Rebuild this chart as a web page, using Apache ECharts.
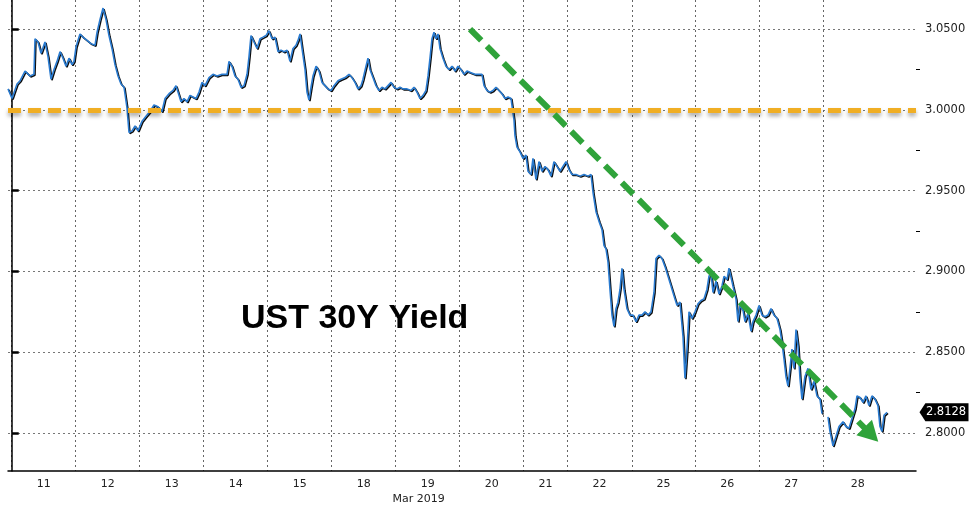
<!DOCTYPE html>
<html><head><meta charset="utf-8">
<script src="https://cdn.jsdelivr.net/npm/echarts@6/dist/echarts.min.js"></script>
<style>html,body{margin:0;padding:0;background:#fff}#c{width:976px;height:509px}</style>
</head><body><div id="c"></div>
<script>
// Trading days (Mar 2019); x unit = one trading session, day 21 is a short session
const dayLabels = ['11','12','13','14','15','18','19','20','21','22','25','26','27','28'];
const monthLabel = 'Mar 2019';
const monthDayIndex = 6;
const dayStarts = [0,1,2,3,4,5,6,7,8,8.68,9.69,10.68,11.68,12.68];
const sessionEnd = 13.76;
const xMin = -0.058, xMax = 14.13;
const yMin = 2.7765, yMax = 3.068;
const yTicks = [2.80,2.85,2.90,2.95,3.00,3.05];
const yMinorTicks = [2.825,2.875,2.925,2.975,3.025];
const refLevel = 3.00;
const trendStart = [7.161, 3.050];
const trendEnd = [13.43, 2.799];
const lastYield = 2.8128;

const times = [
-0.058,0.005,0.083,0.130,0.208,0.286,0.348,0.364,0.411,0.458,0.520,0.567,0.614,0.661,0.708,0.755,0.802,0.848,0.895,0.942,0.973,
1.005,1.067,1.114,1.177,1.239,1.302,1.333,1.380,1.427,1.473,1.520,1.567,1.614,1.661,1.708,1.755,1.802,1.833,1.880,1.927,1.973,
2.036,2.098,2.161,2.223,2.286,2.348,2.395,2.458,2.520,2.567,2.614,2.645,2.692,2.739,2.786,2.833,2.880,2.927,2.973,
3.020,3.083,3.145,3.208,3.286,3.364,3.395,3.442,3.489,3.536,3.583,3.630,3.677,3.708,3.739,3.786,3.833,3.880,3.927,3.973,
4.020,4.067,4.114,4.161,4.208,4.255,4.302,4.348,4.395,4.442,4.473,4.505,4.536,4.583,4.614,4.645,4.677,4.708,4.755,4.802,4.848,4.895,4.942,
4.989,5.036,5.098,5.145,5.208,5.270,5.317,5.364,5.411,5.458,5.489,5.536,5.567,5.598,5.645,5.692,5.739,5.786,5.833,5.880,5.927,5.973,
6.020,6.067,6.114,6.177,6.239,6.286,6.333,6.380,6.427,6.473,6.505,6.536,6.567,6.598,6.630,6.661,6.692,6.739,6.786,6.833,6.880,6.927,6.973,
7.020,7.067,7.114,7.177,7.239,7.302,7.348,7.380,7.427,7.473,7.520,7.567,7.614,7.661,7.708,7.755,7.802,7.833,7.848,7.864,7.895,7.942,7.989,
8.036,8.067,8.114,8.145,8.192,8.239,8.286,8.333,8.380,8.427,8.473,8.520,8.567,8.614,8.661,
8.708,8.755,8.817,8.880,8.942,9.005,9.052,9.083,9.130,9.177,9.223,9.255,9.286,9.317,9.348,9.380,9.411,9.442,9.473,9.505,9.536,9.567,9.614,9.661,
9.708,9.755,9.802,9.848,9.895,9.942,9.989,10.036,10.067,10.114,10.161,10.208,10.255,10.302,10.348,10.395,10.442,10.489,10.520,10.552,10.583,10.630,
10.677,10.723,10.770,10.817,10.864,10.895,10.927,10.958,11.005,11.052,11.098,11.130,11.177,11.208,11.239,11.270,11.317,11.348,11.380,11.427,11.458,11.505,11.552,11.583,11.630,
11.677,11.723,11.770,11.817,11.864,11.911,11.958,12.005,12.036,12.067,12.098,12.130,12.161,12.192,12.223,12.255,12.286,12.317,12.348,12.395,12.442,12.489,12.536,12.583,12.630,12.661,
12.700,
12.755,12.786,12.833,12.880,12.927,12.989,13.036,13.083,13.130,13.177,13.208,13.255,13.302,13.348,13.395,13.442,13.489,13.536,13.567,13.598,13.630,13.677
];
const yields = [
3.013,3.007,3.016,3.018,3.024,3.021,3.022,3.044,3.042,3.035,3.042,3.033,3.019,3.025,3.030,3.036,3.032,3.027,3.032,3.028,3.030,
3.039,3.047,3.045,3.043,3.041,3.040,3.048,3.056,3.063,3.056,3.046,3.038,3.028,3.021,3.016,3.014,3.001,2.986,2.987,2.990,2.987,
2.993,2.996,2.999,3.003,3.002,2.999,3.007,3.010,3.012,3.015,3.009,3.005,3.007,3.005,3.009,3.008,3.007,3.011,3.017,
3.015,3.020,3.022,3.021,3.022,3.022,3.030,3.027,3.021,3.019,3.014,3.015,3.022,3.033,3.046,3.042,3.038,3.044,3.045,3.046,
3.049,3.044,3.045,3.036,3.037,3.036,3.037,3.030,3.038,3.040,3.043,3.047,3.038,3.025,3.011,3.006,3.014,3.021,3.027,3.024,3.017,3.015,3.013,
3.012,3.015,3.018,3.019,3.020,3.022,3.020,3.017,3.013,3.015,3.019,3.027,3.032,3.025,3.020,3.015,3.012,3.014,3.013,3.015,3.017,3.014,
3.013,3.014,3.013,3.013,3.012,3.014,3.011,3.007,3.009,3.012,3.021,3.032,3.044,3.048,3.044,3.047,3.038,3.032,3.027,3.025,3.027,3.024,3.027,
3.025,3.022,3.024,3.023,3.022,3.022,3.022,3.015,3.012,3.011,3.012,3.014,3.012,3.010,3.007,3.008,3.007,3.006,2.994,2.984,2.977,2.974,2.970,
2.972,2.962,2.960,2.970,2.957,2.968,2.962,2.965,2.963,2.959,2.968,2.965,2.962,2.965,2.968,
2.963,2.960,2.960,2.959,2.960,2.959,2.960,2.949,2.937,2.931,2.926,2.916,2.914,2.906,2.889,2.873,2.866,2.877,2.881,2.889,2.902,2.889,2.877,2.873,
2.873,2.869,2.873,2.873,2.875,2.873,2.875,2.887,2.908,2.910,2.908,2.903,2.897,2.891,2.885,2.879,2.881,2.860,2.834,2.852,2.875,2.871,
2.875,2.880,2.882,2.883,2.889,2.897,2.899,2.887,2.894,2.886,2.891,2.897,2.895,2.902,2.903,2.891,2.883,2.869,2.879,2.876,2.869,2.874,2.863,2.869,2.873,
2.879,2.873,2.872,2.873,2.877,2.873,2.871,2.864,2.856,2.846,2.835,2.829,2.840,2.852,2.840,2.864,2.854,2.834,2.821,2.835,2.840,2.827,2.832,2.823,2.821,2.812,
null,
2.810,2.801,2.792,2.798,2.804,2.807,2.804,2.803,2.809,2.815,2.823,2.822,2.819,2.823,2.817,2.823,2.821,2.817,2.804,2.801,2.811,2.8128
];

const seriesData = times.map((t, i) => [t, yields[i] === null ? '-' : yields[i]]);
const dayMids = dayStarts.map((s, i) => (s + (i + 1 < dayStarts.length ? dayStarts[i + 1] : sessionEnd)) / 2);

function dayLabelFor(v) {
  let best = 0, bd = Infinity;
  dayMids.forEach((m, i) => { const d = Math.abs(m - v); if (d < bd) { bd = d; best = i; } });
  if (best === monthDayIndex) return dayLabels[best] + '\n{m|' + monthLabel + '}';
  return dayLabels[best];
}

const font = 'DejaVu Sans';
const gridLeft = 8, gridRight = 60, chartWidth = 976;
const chart = echarts.init(document.getElementById('c'));
chart.setOption({
  animation: false,
  backgroundColor: '#ffffff',
  title: {
    text: 'UST 30Y Yield', left: 236, top: 297,
    textStyle: { fontFamily: 'Liberation Sans', fontWeight: 'bold', fontSize: 34, color: '#000' }
  },
  grid: { left: gridLeft, right: gridRight, top: 0, bottom: 38, containLabel: false },
  xAxis: {
    type: 'value', min: xMin, max: xMax,
    axisLine: { show: true, lineStyle: { color: '#000', width: 1.5 } },
    axisTick: { show: false, customValues: dayStarts },
    axisLabel: {
      customValues: dayMids, formatter: dayLabelFor,
      fontFamily: font, fontSize: 11, color: '#222', margin: 6, lineHeight: 15,
      rich: { m: { fontFamily: font, fontSize: 11, color: '#222', lineHeight: 15, padding: [0, 18, 0, 0] } }
    },
    splitLine: { show: true, lineStyle: { color: '#666', width: 1, type: [2, 3] } }
  },
  yAxis: [{
    type: 'value', position: 'right', min: yMin, max: yMax,
    axisLine: { show: true, lineStyle: { color: '#000', width: 1.5 } },
    axisTick: { show: true, customValues: yTicks, length: 7, lineStyle: { color: '#000', width: 2.5 } },
    axisLabel: { customValues: yTicks, formatter: v => v.toFixed(4), fontFamily: font, fontSize: 11.5, color: '#222', margin: 9 },
    splitLine: { show: true, lineStyle: { color: '#777', width: 1, type: [2, 3] } }
  }, {
    // minor ticks: placed on the left slot, shifted onto the right axis line
    type: 'value', position: 'left', offset: -(chartWidth - gridLeft - gridRight), min: yMin, max: yMax,
    axisLine: { show: false },
    axisTick: { show: true, inside: true, customValues: yMinorTicks, length: 4, lineStyle: { color: '#000', width: 1 } },
    axisLabel: { show: false },
    splitLine: { show: false }
  }],
  series: [{
    type: 'line', data: seriesData, showSymbol: false, symbol: 'none', connectNulls: false,
    lineStyle: { color: '#2a7bd0', width: 1.6, shadowColor: 'rgba(0,0,0,0.95)', shadowBlur: 0, shadowOffsetX: 1, shadowOffsetY: 1 },
    markLine: {
      silent: true, symbol: ['none', 'none'], label: { show: false }, animation: false,
      data: [
        { yAxis: refLevel, lineStyle: { color: '#f0ae24', width: 5, type: [13, 7], shadowBlur: 4, shadowColor: 'rgba(0,0,0,0.35)', shadowOffsetY: 3 } },
        [
          { coord: trendStart, symbol: 'none', lineStyle: { color: '#2fa33a', width: 6, type: [16, 8] } },
          { coord: trendEnd, symbol: 'triangle', symbolSize: [22, 20], lineStyle: { color: '#2fa33a', width: 6, type: [16, 8] } }
        ]
      ]
    },
    markPoint: {
      silent: true, animation: false,
      data: [{ coord: [xMax, lastYield], value: lastYield }],
      symbol: 'path://M0,9 L6,0 L50,0 L50,18 L6,18 Z', symbolSize: [49, 18], symbolKeepAspect: false,
      symbolOffset: [28, 0],
      itemStyle: { color: '#000' },
      label: { show: true, position: 'inside', offset: [2, 0], color: '#fff', fontFamily: font, fontSize: 11.5, formatter: () => lastYield.toFixed(4) }
    }
  }]
});
</script>
</body></html>
